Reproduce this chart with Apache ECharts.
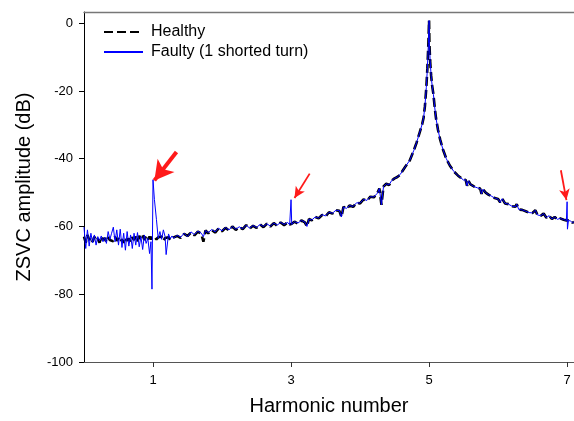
<!DOCTYPE html>
<html>
<head>
<meta charset="utf-8">
<script src="https://cdn.jsdelivr.net/npm/echarts@6/dist/echarts.min.js"></script>
<style>
html,body{margin:0;padding:0;background:#fff;}
#chart{width:574px;height:421px;}
</style>
</head>
<body>
<div id="chart"></div>
<script>
// Harmonic number (x values)
var harmonic = [
  0,0.025,0.05,0.075,0.1,0.125,0.15,0.175,0.2,0.225,
  0.25,0.275,0.3,0.325,0.35,0.375,0.4,0.425,0.45,0.475,
  0.5,0.525,0.55,0.575,0.6,0.625,0.65,0.675,0.7,0.725,
  0.75,0.775,0.8,0.825,0.85,0.875,0.9,0.925,0.95,0.97,
  0.985,1,1.02,1.05,1.075,1.1,1.125,1.15,1.175,1.19,
  1.225,1.25,1.275,1.3,1.35,1.4,1.45,1.5,1.55,1.6,
  1.65,1.7,1.73,1.76,1.8,1.85,1.9,1.95,2,2.05,
  2.1,2.15,2.2,2.25,2.3,2.35,2.4,2.45,2.5,2.55,
  2.6,2.65,2.7,2.75,2.8,2.85,2.9,2.95,2.98,3,
  3.01,3.05,3.1,3.15,3.2,3.23,3.26,3.3,3.35,3.4,
  3.45,3.5,3.55,3.6,3.65,3.7,3.73,3.76,3.8,3.85,
  3.9,3.95,4,4.05,4.1,4.15,4.2,4.25,4.28,4.31,
  4.34,4.38,4.42,4.46,4.5,4.54,4.58,4.65,4.72,4.78,
  4.82,4.86,4.9,4.92,4.94,4.96,4.975,4.99,5,5.005,
  5.015,5.03,5.045,5.063,5.08,5.1,5.13,5.16,5.2,5.25,
  5.3,5.36,5.42,5.5,5.53,5.55,5.57,5.6,5.65,5.7,
  5.74,5.76,5.78,5.82,5.86,5.9,5.95,6,6.03,6.06,
  6.1,6.15,6.2,6.25,6.27,6.3,6.35,6.4,6.45,6.5,
  6.54,6.57,6.62,6.66,6.7,6.74,6.78,6.82,6.86,6.9,
  6.95,6.99,7,7.005,7.02,7.05,7.08,7.1
];

// ZSVC amplitude (dB), healthy machine
var healthy = [
  -63.0,-64.8,-62.5,-64.0,-63.2,-64.5,-63.0,-64.2,-63.6,-64.8,
  -63.0,-64.0,-63.4,-64.6,-63.2,-64.0,-63.6,-64.4,-63.0,-64.2,
  -63.5,-64.6,-63.8,-64.8,-63.2,-64.2,-63.6,-64.6,-63.2,-64.0,
  -63.0,-64.4,-62.8,-63.6,-62.6,-64.0,-62.8,-63.8,-63.0,-63.8,
  -63.2,-63.6,-63.0,-63.8,-63.2,-63.6,-63.0,-64.2,-63.4,-63.6,
  -63.2,-64.0,-63.4,-63.8,-62.8,-63.4,-62.2,-62.8,-61.8,-62.6,
  -61.5,-62.2,-64.5,-61.2,-62.0,-61.0,-61.8,-60.6,-61.4,-60.4,
  -61.2,-60.0,-61.0,-60.2,-60.8,-59.6,-60.6,-59.8,-60.4,-59.4,
  -60.2,-59.2,-60.0,-59.0,-59.8,-58.8,-59.6,-58.8,-59.4,-59.0,
  -59.2,-58.6,-59.2,-58.2,-58.8,-60.0,-57.8,-58.2,-57.2,-57.6,
  -56.6,-57.0,-55.8,-56.2,-55.2,-55.4,-57.2,-54.2,-54.8,-53.8,
  -54.2,-53.0,-53.2,-52.0,-52.4,-51.2,-51.4,-50.2,-48.8,-53.6,
  -48.2,-47.4,-47.8,-46.4,-45.8,-45.4,-44.7,-42.5,-40.5,-37.5,
  -35.2,-32.5,-29.8,-28.0,-24.5,-19.0,-13.5,-6.0,0.8,-6.0,
  -11.0,-15.5,-18.5,-21.0,-24.5,-28.0,-31.5,-34.3,-37.2,-40.0,
  -42.0,-43.8,-45.0,-46.3,-46.2,-48.0,-46.5,-47.6,-48.2,-48.6,
  -48.8,-50.4,-49.0,-50.0,-50.6,-51.0,-51.6,-51.9,-52.9,-51.8,
  -53.2,-53.4,-54.0,-54.2,-53.4,-55.0,-55.1,-55.5,-55.9,-56.0,
  -55.2,-56.6,-56.8,-56.2,-57.4,-56.8,-57.8,-57.2,-57.9,-57.6,
  -58.0,-58.2,-58.0,-58.2,-58.2,-58.4,-58.9,-58.6
];

// ZSVC amplitude (dB), faulty machine (1 shorted turn)
var faulty = [
  -60.2,-66.5,-61.0,-65.8,-62.0,-64.8,-62.5,-65.5,-63.0,-64.2,
  -62.8,-64.5,-63.2,-65.0,-61.5,-63.8,-62.0,-60.2,-64.5,-61.0,
  -65.5,-60.8,-66.2,-62.0,-67.0,-61.5,-65.8,-62.5,-66.5,-62.0,
  -65.5,-61.8,-66.0,-63.0,-66.8,-62.5,-65.0,-63.5,-68.0,-64.5,
  -78.5,-46.2,-52.0,-58.0,-63.5,-61.5,-63.8,-61.0,-63.0,-68.3,
  -62.2,-63.6,-62.8,-63.5,-62.6,-63.2,-62.0,-63.0,-61.6,-62.4,
  -61.4,-62.0,-63.0,-61.2,-61.8,-60.9,-61.6,-60.5,-61.3,-60.3,
  -61.0,-60.0,-60.8,-60.1,-60.7,-59.6,-60.5,-59.7,-60.3,-59.4,
  -60.0,-59.2,-59.9,-59.0,-59.6,-58.8,-59.4,-58.8,-59.5,-52.1,
  -59.4,-58.6,-59.0,-58.2,-58.7,-60.0,-57.8,-58.1,-57.2,-57.5,
  -56.5,-56.9,-55.8,-56.1,-55.2,-55.3,-57.2,-54.2,-54.7,-53.8,
  -54.1,-53.0,-53.1,-52.0,-52.3,-51.2,-51.3,-50.2,-48.8,-53.6,
  -48.2,-47.4,-47.7,-46.4,-45.8,-45.4,-44.7,-42.5,-40.5,-37.5,
  -35.2,-32.5,-29.8,-28.0,-24.5,-19.0,-13.5,-6.0,0.8,-6.0,
  -11.0,-15.5,-18.5,-21.0,-24.5,-28.0,-31.5,-34.3,-37.2,-40.0,
  -42.0,-43.8,-45.0,-46.3,-46.2,-48.0,-46.5,-47.6,-48.2,-48.6,
  -48.8,-50.4,-49.0,-50.0,-50.6,-51.0,-51.6,-51.9,-52.9,-51.8,
  -53.2,-53.4,-54.0,-54.2,-53.4,-55.0,-55.1,-55.5,-55.9,-56.0,
  -55.2,-56.6,-56.8,-56.2,-57.4,-56.8,-57.8,-57.2,-57.9,-57.6,
  -58.0,-58.2,-52.7,-60.8,-58.2,-58.4,-58.9,-58.6
];

var seriesNames = ['Healthy', 'Faulty (1 shorted turn)'];
var xTicks = [1, 3, 5, 7];
var yTicks = [-100, -80, -60, -40, -20, 0];

// Red annotation arrows: [tail x, tail y] -> [tip x, tip y]
var arrowTails = [[1.34, -38.0], [3.27, -44.4], [6.91, -43.4]];
var arrowTips  = [[1.02, -46.4], [3.05, -51.6], [6.99, -52.2]];
var arrowHeavy = [true, false, false];

function pairs(xs, ys) {
  var out = [];
  for (var i = 0; i < xs.length; i++) out.push([xs[i], ys[i]]);
  return out;
}

var FONT = '"Liberation Sans", Arial, sans-serif';

var arrowData = arrowTails.map(function (t, i) {
  var heavy = arrowHeavy[i];
  return [
    { coord: t, symbol: 'none', lineStyle: { width: heavy ? 4 : 1.8, color: '#ff1a1a' } },
    { coord: arrowTips[i], symbol: 'arrow', symbolSize: heavy ? [16, 19] : [8, 11] }
  ];
});

var chart = echarts.init(document.getElementById('chart'), null, { renderer: 'canvas' });
chart.setOption({
  animation: false,
  backgroundColor: '#fff',
  grid: { left: 84, right: 0, top: 12, bottom: 57 },
  legend: {
    orient: 'vertical', left: 103, top: 24, padding: 0,
    itemWidth: 39, itemHeight: 14, itemGap: 4,
    data: seriesNames,
    itemStyle: { opacity: 0 },
    textStyle: { fontFamily: FONT, fontSize: 16, color: '#000', padding: [0, 0, 0, 3] }
  },
  xAxis: [{
    type: 'value', min: 0, max: 7.1, position: 'bottom',
    name: 'Harmonic number', nameLocation: 'middle', nameGap: 34,
    nameTextStyle: { fontFamily: FONT, fontSize: 20, color: '#000' },
    axisLine: { show: true, onZero: false, lineStyle: { color: '#555', width: 1.2 } },
    axisTick: { show: true, length: 5, customValues: xTicks, lineStyle: { color: '#333' } },
    axisLabel: { customValues: xTicks, margin: 12, fontFamily: FONT, fontSize: 13, color: '#000' },
    splitLine: { show: false }
  }, {
    type: 'value', min: 0, max: 7.1, position: 'top',
    axisLine: { show: true, onZero: false, lineStyle: { color: '#777', width: 1.4 } },
    axisTick: { show: false }, axisLabel: { show: false }, splitLine: { show: false }
  }],
  yAxis: {
    type: 'value', min: -100, max: 3.3,
    name: 'ZSVC amplitude (dB)', nameLocation: 'middle', nameGap: 50,
    nameTextStyle: { fontFamily: FONT, fontSize: 20, color: '#000' },
    axisLine: { show: true, onZero: false, lineStyle: { color: '#000', width: 1 } },
    axisTick: { show: true, length: 5, customValues: yTicks, lineStyle: { color: '#000' } },
    axisLabel: { customValues: yTicks, margin: 11, fontFamily: FONT, fontSize: 13, color: '#000' },
    splitLine: { show: false }
  },
  series: [
    {
      name: seriesNames[0], type: 'line', data: pairs(harmonic, healthy),
      symbol: 'none', showSymbol: false, z: 2,
      itemStyle: { color: '#000' },
      lineStyle: { color: '#000', width: 2.6, type: [9, 4] }
    },
    {
      name: seriesNames[1], type: 'line', data: pairs(harmonic, faulty),
      symbol: 'none', showSymbol: false, z: 3,
      itemStyle: { color: '#0000ff' },
      lineStyle: { color: '#0000ff', width: 1 },
      markLine: {
        silent: true, animation: false, precision: 3,
        label: { show: false },
        emphasis: { disabled: true },
        lineStyle: { color: '#ff1a1a', type: 'solid' },
        data: arrowData
      }
    }
  ]
});
</script>
</body>
</html>
